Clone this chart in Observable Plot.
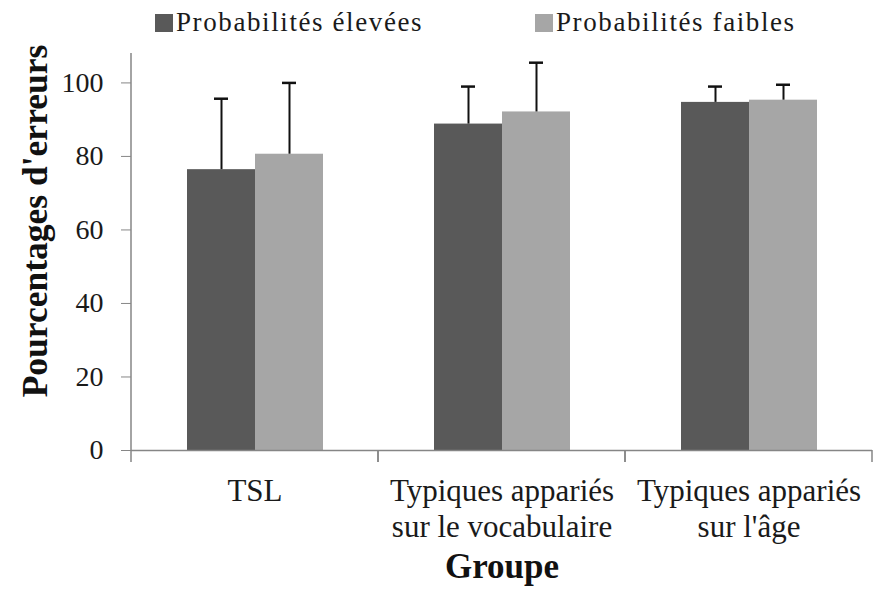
<!DOCTYPE html>
<html><head><meta charset="utf-8">
<script src="https://cdn.jsdelivr.net/npm/d3@7"></script>
<script src="https://cdn.jsdelivr.net/npm/@observablehq/plot@0.6"></script>
<style>
body{margin:0;background:#fff;font-family:"Liberation Serif","Times New Roman",serif;color:#1a1a1a;}
#legend{display:flex;height:45px;align-items:center;padding-left:155px;font-size:27px;letter-spacing:1.6px;}
.item{display:flex;align-items:center;}
.item:first-child{width:380px;}
.sw{width:18px;height:18px;margin-right:3px;}
</style></head><body>
<div id="legend"></div><div id="chart"></div>
<script>
const groups = ["TSL", "Typiques appariés sur le vocabulaire", "Typiques appariés sur l'âge"];
const groupLabels = ["TSL", "Typiques appariés\nsur le vocabulaire", "Typiques appariés\nsur l'âge"];
const series = ["Probabilités élevées", "Probabilités faibles"];
const highValues = [76.4, 88.8, 94.7];
const highErrors = [19.3, 10.2, 4.3];
const lowValues = [80.6, 92.1, 95.3];
const lowErrors = [19.4, 13.4, 4.2];
const yTicks = [0, 20, 40, 60, 80, 100];
const yMax = 108;
const colors = ["#595959", "#a6a6a6"];
const yLabel = "Pourcentages d'erreurs";
const xLabel = "Groupe";

const rows = [];
groups.forEach((g, i) => {
  rows.push({group: g, series: series[0], value: highValues[i], upper: highValues[i] + highErrors[i]});
  rows.push({group: g, series: series[1], value: lowValues[i], upper: lowValues[i] + lowErrors[i]});
});

// legend
const legend = document.getElementById("legend");
series.forEach((s, i) => {
  const item = document.createElement("div");
  item.className = "item";
  const sw = document.createElement("div");
  sw.className = "sw";
  sw.style.background = colors[i];
  const t = document.createElement("span");
  t.textContent = s;
  item.appendChild(sw); item.appendChild(t);
  legend.appendChild(item);
});

const axisGray = "#868686";

function edgeRender(index, scales, values, dimensions, context) {
  const g = d3.create("svg:g");
  const [x0, x1] = scales.x.range();
  const y0 = scales.y(0);
  const grp = groups[index[0]];
  const line = (xa, ya, xb, yb) => g.append("line")
    .attr("x1", xa).attr("y1", ya).attr("x2", xb).attr("y2", yb)
    .attr("stroke", axisGray).attr("stroke-width", 1.5);
  if (grp === groups[0]) line(x0, scales.y(yMax), x0, y0 + 12);
  else line(x0, y0, x0, y0 + 12);
  line(x1, y0, x1, y0 + 12);
  return g.node();
}

const chart = Plot.plot({
  width: 874,
  height: 547,
  marginTop: 8,
  marginBottom: 142,
  marginLeft: 131,
  marginRight: 2,
  style: {fontFamily: "'Liberation Serif', 'Times New Roman', serif", background: "#fff", color: "#1a1a1a", overflow: "visible"},
  fx: {domain: groups, padding: 0, axis: null},
  x: {domain: series, paddingInner: 0, paddingOuter: 0.8, axis: null},
  y: {domain: [0, yMax], axis: null},
  color: {domain: series, range: colors},
  marks: [
    Plot.barY(rows, {fx: "group", x: "series", y: "value", fill: "series"}),
    Plot.ruleX(rows, {fx: "group", x: "series", y1: "value", y2: "upper", stroke: "#111", strokeWidth: 2}),
    Plot.tickY(rows, {fx: "group", x: "series", y: "upper", stroke: "#111", strokeWidth: 2.5, insetLeft: 27, insetRight: 27}),
    Plot.ruleY([0], {stroke: axisGray, strokeWidth: 1.5}),
    Plot.ruleY(groups, {fx: d => d, y: () => 0, render: edgeRender}),
    Plot.axisY({ticks: yTicks, tickSize: 10, tickPadding: 18, fontSize: 28, stroke: axisGray, fill: "#1a1a1a", label: null}),
    Plot.axisFx({anchor: "bottom", tickSize: 0, tickPadding: 25, fontSize: 31, lineHeight: 1.16, tickFormat: d => groupLabels[groups.indexOf(d)], label: null}),
    Plot.text([yLabel], {fx: () => groups[0], text: d => d, frameAnchor: "left", textAnchor: "middle", rotate: -90, dx: -96, dy: -31, fontSize: 35.5, fontWeight: "bold", fill: "#111"}),
    Plot.text([xLabel], {fx: () => groups[1], text: d => d, frameAnchor: "bottom", lineAnchor: "middle", dy: 116, fontSize: 35, fontWeight: "bold", fill: "#111"})
  ]
});
document.getElementById("chart").appendChild(chart);
</script>
</body></html>
